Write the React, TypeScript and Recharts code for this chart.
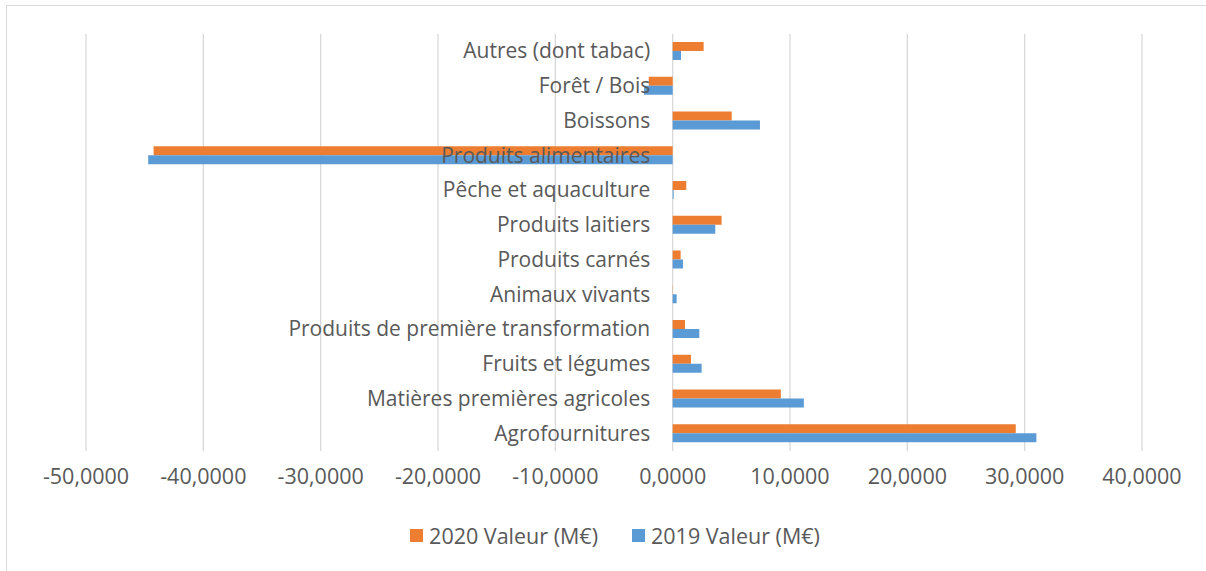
import { BarChart, Bar, XAxis, YAxis, CartesianGrid, Legend } from "recharts";

const categories = [
  "Autres (dont tabac)",
  "Forêt / Bois",
  "Boissons",
  "Produits alimentaires",
  "Pêche et aquaculture",
  "Produits laitiers",
  "Produits carnés",
  "Animaux vivants",
  "Produits de première transformation",
  "Fruits et légumes",
  "Matières premières agricoles",
  "Agrofournitures",
];

const values2020 = [2.64, -2.04, 5.03, -44.24, 1.16, 4.17, 0.68, 0.02, 1.05, 1.56, 9.22, 29.24];
const values2019 = [0.71, -2.44, 7.44, -44.7, 0.08, 3.63, 0.88, 0.34, 2.27, 2.47, 11.18, 31.0];

const xTicks = [-50, -40, -30, -20, -10, 0, 10, 20, 30, 40];

const data = categories.map((name, i) => ({
  name,
  v2020: values2020[i],
  v2019: values2019[i],
}));

const W = 1206;
const H = 571;
const margin = { top: 34, right: 64, bottom: 80, left: 85 };
const domain: [number, number] = [-50, 40];
const FONT = "'Open Sans', sans-serif";
const TEXT = "#595959";

// x of value 0 inside the plot area, category labels sit just left of it
const plotW = W - margin.left - margin.right;
const zeroX = margin.left + ((0 - domain[0]) / (domain[1] - domain[0])) * plotW;

const fmt = (v: number) => v.toFixed(4).replace(".", ",");

function CategoryTick(props: any) {
  const { y, payload } = props;
  return (
    <text
      x={zeroX - 22}
      y={y}
      dy={7}
      textAnchor="end"
      fill={TEXT}
      fontSize={21}
      fontFamily={FONT}
    >
      {payload.value}
    </text>
  );
}

function LegendContent() {
  const items = [
    { label: "2020 Valeur (M€)", color: "#ED7D31" },
    { label: "2019 Valeur (M€)", color: "#5B9BD5" },
  ];
  return (
    <div
      style={{
        display: "flex",
        justifyContent: "center",
        gap: 34,
        paddingLeft: 24,
        fontFamily: FONT,
        fontSize: 21.5,
        color: TEXT,
      }}
    >
      {items.map((it) => (
        <div key={it.label} style={{ display: "flex", alignItems: "center" }}>
          <span style={{ width: 13, height: 13, background: it.color, marginRight: 6, display: "inline-block" }} />
          {it.label}
        </div>
      ))}
    </div>
  );
}

export default function App() {
  return (
    <div style={{ position: "absolute", left: 0, top: 0, width: W, height: H, overflow: "hidden", background: "#fff" }}>
      <div
        style={{
          position: "absolute",
          left: 6,
          top: 5,
          width: W + 100,
          height: H + 100,
          border: "1px solid #d9d9d9",
        }}
      />
      <div style={{ position: "absolute", left: 0, top: 0 }}>
        <BarChart
          width={W}
          height={H}
          data={data}
          layout="vertical"
          margin={margin}
          barSize={9}
          barGap={0}
        >
          <CartesianGrid horizontal={false} stroke="#d9d9d9" strokeWidth={1.3} />
          <XAxis
            type="number"
            domain={domain}
            ticks={xTicks}
            tickFormatter={fmt}
            axisLine={false}
            tickLine={false}
            interval={0}
            height={40}
            tick={{ fill: TEXT, fontSize: 21.5, fontFamily: FONT, dy: 10 }}
          />
          <YAxis
            type="category"
            dataKey="name"
            width={1}
            axisLine={false}
            tickLine={false}
            interval={0}
            tick={(p: any) => <CategoryTick {...p} />}
          />
          <Bar dataKey="v2020" name="2020 Valeur (M€)" fill="#ED7D31" isAnimationActive={false} />
          <Bar dataKey="v2019" name="2019 Valeur (M€)" fill="#5B9BD5" isAnimationActive={false} />
          <Legend
            layout="horizontal"
            verticalAlign="middle"
            align="center"
            content={<LegendContent />}
            wrapperStyle={{ top: 521, left: 0, width: W }}
          />
        </BarChart>
      </div>
    </div>
  );
}
